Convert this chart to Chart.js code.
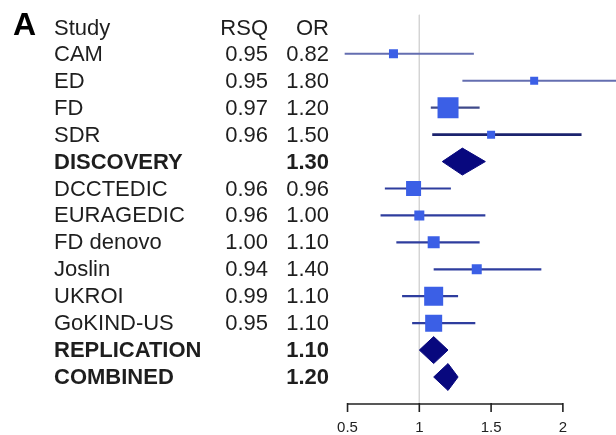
<!DOCTYPE html>
<html>
<head>
<meta charset="utf-8">
<title>Forest plot</title>
<script src="https://cdn.jsdelivr.net/npm/chart.js@4.4.1/dist/chart.umd.min.js"></script>
<style>
  html, body { margin: 0; padding: 0; background: #fff; }
  canvas { display: block; }
</style>
</head>
<body>
<canvas id="forest" width="616" height="435"></canvas>
<script>
// Study rows, top to bottom
const studies = ['CAM', 'ED', 'FD', 'SDR', 'DISCOVERY', 'DCCTEDIC', 'EURAGEDIC',
                 'FD denovo', 'Joslin', 'UKROI', 'GoKIND-US', 'REPLICATION', 'COMBINED'];
const pooled = [false, false, false, false, true, false, false, false, false, false, false, true, true];
const rsq = [0.95, 0.95, 0.97, 0.96, null, 0.96, 0.96, 1.00, 0.94, 0.99, 0.95, null, null];
const orValues = [0.82, 1.80, 1.20, 1.50, 1.30, 0.96, 1.00, 1.10, 1.40, 1.10, 1.10, 1.10, 1.20];
const ciLow = [0.48, 1.30, 1.08, 1.09, 1.16, 0.76, 0.73, 0.84, 1.10, 0.88, 0.95, 1.00, 1.10];
const ciHigh = [1.38, 2.45, 1.42, 2.13, 1.46, 1.22, 1.46, 1.42, 1.85, 1.27, 1.39, 1.20, 1.27];
const tickValues = [0.5, 1, 1.5, 2];
const tickLabels = ['0.5', '1', '1.5', '2'];

// box side in px for each study (weight), diamonds ignore it
const boxPx = [9, 8, 21, 8, 0, 15, 10, 12, 10, 19, 17, 0, 0];
const lineColor = ['#646eb0', '#646eb0', '#3f4a8a', '#1c236e', null, '#2e3d9e', '#2e3d9e',
                   '#2e3d9e', '#2e3d9e', '#2e3d9e', '#2e3d9e', null, null];
const lineWidth = [2, 2, 2.2, 2.6, 0, 2.2, 2.2, 2.2, 2.2, 2.2, 2.2, 0, 0];

const BOX_COLOR = '#3b5fe6';
const DIAMOND_COLOR = '#08087e';
const TEXT_FONT = '"Liberation Sans", Arial, sans-serif';

const rows = studies.map((s, i) => i);
const studyRows = rows.filter(i => !pooled[i]);
const pooledRows = rows.filter(i => pooled[i]);
const axisRow = studies.length;

const datasets = [];

// boxes on top
datasets.push({
  type: 'scatter',
  data: studyRows.map(i => ({ x: orValues[i], y: i })),
  pointStyle: 'rect',
  pointRadius: studyRows.map(i => boxPx[i] / Math.SQRT2),
  backgroundColor: BOX_COLOR,
  borderWidth: 0
});

// pooled estimates as filled diamonds
pooledRows.forEach(i => {
  datasets.push({
    type: 'line',
    data: [
      { x: ciLow[i], y: i },
      { x: orValues[i], y: i - 0.5 },
      { x: ciHigh[i], y: i },
      { x: orValues[i], y: i + 0.5 },
      { x: ciLow[i], y: i }
    ],
    borderColor: DIAMOND_COLOR,
    backgroundColor: DIAMOND_COLOR,
    borderWidth: 1,
    fill: 'shape',
    pointRadius: 0,
    tension: 0
  });
});

// confidence interval whiskers
studyRows.forEach(i => {
  datasets.push({
    type: 'line',
    data: [{ x: ciLow[i], y: i }, { x: ciHigh[i], y: i }],
    borderColor: lineColor[i],
    borderWidth: lineWidth[i],
    pointRadius: 0,
    fill: false
  });
});

// no-effect reference line at OR = 1
datasets.push({
  type: 'line',
  data: [{ x: 1, y: -1.45 }, { x: 1, y: axisRow }],
  borderColor: '#d4d4d4',
  borderWidth: 1,
  pointRadius: 0,
  fill: false
});

// table text, panel letter and the bottom axis
const tablePlugin = {
  id: 'forestTable',
  afterDraw(chart) {
    const ctx = chart.ctx;
    const x = chart.scales.x;
    const y = chart.scales.y;

    ctx.save();
    ctx.fillStyle = '#000';
    ctx.font = 'bold 32px ' + TEXT_FONT;
    ctx.textAlign = 'left';
    ctx.textBaseline = 'alphabetic';
    ctx.fillText('A', 13, 35);

    ctx.fillStyle = '#1e1e1e';
    ctx.textBaseline = 'middle';
    const headY = y.getPixelForValue(-0.93);
    ctx.font = '22px ' + TEXT_FONT;
    ctx.textAlign = 'left';
    ctx.fillText('Study', 54, headY);
    ctx.textAlign = 'right';
    ctx.fillText('RSQ', 268, headY);
    ctx.fillText('OR', 329, headY);

    rows.forEach(i => {
      const py = y.getPixelForValue(i) + 1;
      ctx.font = (pooled[i] ? 'bold ' : '') + '22px ' + TEXT_FONT;
      ctx.textAlign = 'left';
      ctx.fillText(studies[i], 54, py);
      ctx.textAlign = 'right';
      if (rsq[i] !== null) ctx.fillText(rsq[i].toFixed(2), 268, py);
      ctx.fillText(orValues[i].toFixed(2), 329, py);
    });

    // x axis, only across the tick range
    const ay = y.getPixelForValue(axisRow);
    const x0 = x.getPixelForValue(tickValues[0]);
    const x1 = x.getPixelForValue(tickValues[tickValues.length - 1]);
    ctx.strokeStyle = '#222';
    ctx.lineWidth = 1.6;
    ctx.beginPath();
    ctx.moveTo(x0, ay);
    ctx.lineTo(x1, ay);
    tickValues.forEach(v => {
      const px = x.getPixelForValue(v);
      ctx.moveTo(px, ay - 1);
      ctx.lineTo(px, ay + 8);
    });
    ctx.stroke();

    ctx.fillStyle = '#222';
    ctx.font = '15px ' + TEXT_FONT;
    ctx.textAlign = 'center';
    tickValues.forEach((v, k) => {
      ctx.fillText(tickLabels[k], x.getPixelForValue(v), ay + 24);
    });
    ctx.restore();
  }
};

new Chart(document.getElementById('forest'), {
  type: 'scatter',
  data: { datasets: datasets },
  options: {
    responsive: false,
    animation: false,
    events: [],
    layout: { autoPadding: false, padding: { left: 326, right: 0, top: 0, bottom: 17.6 } },
    plugins: {
      legend: { display: false },
      tooltip: { enabled: false }
    },
    scales: {
      x: { type: 'linear', min: 0.35, max: 2.37, display: false },
      y: { type: 'linear', min: -2, max: 13.5, reverse: true, display: false }
    }
  },
  plugins: [tablePlugin]
});
</script>
</body>
</html>
